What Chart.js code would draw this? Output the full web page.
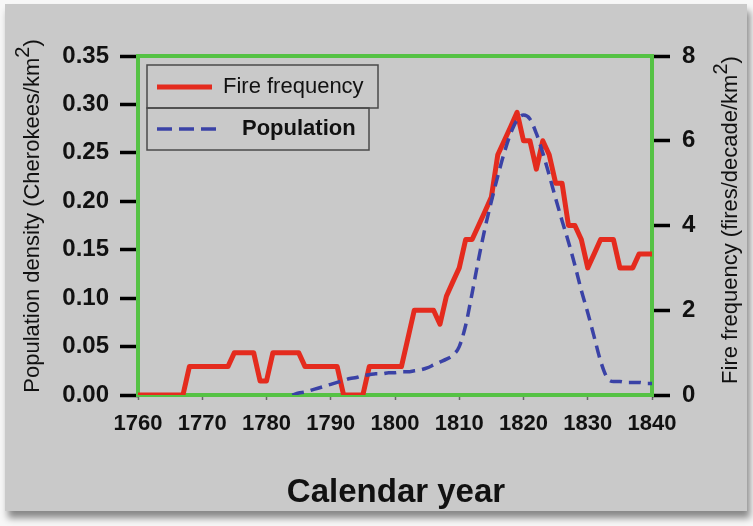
<!DOCTYPE html>
<html>
<head>
<meta charset="utf-8">
<title>Fire frequency and Cherokee population density, 1760–1840</title>
<script src="https://cdn.jsdelivr.net/npm/chart.js@4/dist/chart.umd.min.js"></script>
<style>
  html, body { margin: 0; padding: 0; background: #f7f7f7; }
  #panel {
    position: absolute; left: 5px; top: 4px; width: 742px; height: 507px;
    background: #c9c9c9;
    box-shadow: 3px 7px 7px rgba(0, 0, 0, 0.45);
  }
  #chart { position: absolute; left: 0; top: 0; }
</style>
</head>
<body>
<div id="panel"></div>
<canvas id="chart" width="753" height="526"></canvas>
<script>
// Calendar years (annual resolution)
const years = [
  1760, 1761, 1762, 1763, 1764, 1765, 1766, 1767, 1768, 1769,
  1770, 1771, 1772, 1773, 1774, 1775, 1776, 1777, 1778, 1779,
  1780, 1781, 1782, 1783, 1784, 1785, 1786, 1787, 1788, 1789,
  1790, 1791, 1792, 1793, 1794, 1795, 1796, 1797, 1798, 1799,
  1800, 1801, 1802, 1803, 1804, 1805, 1806, 1807, 1808, 1809,
  1810, 1811, 1812, 1813, 1814, 1815, 1816, 1817, 1818, 1819,
  1820, 1821, 1822, 1823, 1824, 1825, 1826, 1827, 1828, 1829,
  1830, 1831, 1832, 1833, 1834, 1835, 1836, 1837, 1838, 1839,
  1840
];

// Fire frequency (fires/decade/km²), right axis
const fireFrequency = [
  0, 0, 0, 0, 0, 0, 0, 0, 0.67, 0.67,
  0.67, 0.67, 0.67, 0.67, 0.67, 1.0, 1.0, 1.0, 1.0, 0.33,
  0.33, 1.0, 1.0, 1.0, 1.0, 1.0, 0.67, 0.67, 0.67, 0.67,
  0.67, 0.67, 0, 0, 0, 0, 0.67, 0.67, 0.67, 0.67,
  0.67, 0.67, 1.33, 2.0, 2.0, 2.0, 2.0, 1.67, 2.33, 2.67,
  3.0, 3.67, 3.67, 4.0, 4.33, 4.67, 5.67, 6.0, 6.33, 6.67,
  6.0, 6.0, 5.33, 6.0, 5.67, 5.0, 5.0, 4.0, 4.0, 3.67,
  3.0, 3.33, 3.67, 3.67, 3.67, 3.0, 3.0, 3.0, 3.33, 3.33,
  3.33
];

// Population density (Cherokees/km²), left axis; no estimate before 1784
const populationDensity = [
  null, null, null, null, null, null, null, null, null, null,
  null, null, null, null, null, null, null, null, null, null,
  null, null, null, null, 0.000, 0.002, 0.003, 0.005, 0.007, 0.009,
  0.011, 0.013, 0.015, 0.017, 0.018, 0.020, 0.021, 0.022, 0.022, 0.023,
  0.023, 0.024, 0.024, 0.025, 0.026, 0.028, 0.031, 0.034, 0.037, 0.041,
  0.050, 0.072, 0.105, 0.140, 0.172, 0.200, 0.226, 0.250, 0.270, 0.284,
  0.289, 0.285, 0.270, 0.250, 0.227, 0.203, 0.180, 0.158, 0.134, 0.108,
  0.085, 0.060, 0.035, 0.018, 0.014, 0.014, 0.013, 0.013, 0.013, 0.012,
  0.012
];

// Axis ranges and tick steps
const yearTicks = [1760, 1840, 10];
const densityTicks = [0, 0.35, 0.05];
const fireTicks = [0, 8, 2];

const FONT = '"Liberation Sans", Arial, Helvetica, sans-serif';
const RED = '#e42b1e';
const BLUE = '#3a42a6';
const GREEN = '#55c244';

function pairs(xs, ys) {
  return xs.map((x, i) => ({ x: x, y: ys[i] }));
}

// Draws rotated axis title with a raised "2" in km²
function drawRotatedTitle(ctx, cx, cy, mainText, supText, tailText, size) {
  ctx.save();
  ctx.translate(cx, cy);
  ctx.rotate(-Math.PI / 2);
  ctx.fillStyle = '#111';
  ctx.textBaseline = 'middle';
  ctx.textAlign = 'left';
  const mainFont = size + 'px ' + FONT;
  const supSize = Math.round(size * 0.9);
  const supFont = supSize + 'px ' + FONT;
  ctx.font = mainFont;
  const w1 = ctx.measureText(mainText).width;
  const w3 = ctx.measureText(tailText).width;
  ctx.font = supFont;
  const w2 = ctx.measureText(supText).width;
  let x = -(w1 + w2 + w3) / 2;
  ctx.font = mainFont;
  ctx.fillText(mainText, x, 0);
  x += w1;
  ctx.font = supFont;
  ctx.fillText(supText, x, -size * 0.45);
  x += w2;
  ctx.font = mainFont;
  ctx.fillText(tailText, x, 0);
  ctx.restore();
}

const framePlugin = {
  id: 'frame',
  beforeDatasetsDraw(chart) {
    const { ctx, chartArea: a } = chart;
    ctx.save();
    ctx.strokeStyle = GREEN;
    ctx.lineWidth = 4;
    ctx.strokeRect(a.left, a.top, a.right - a.left, a.bottom - a.top);
    ctx.restore();
  },
  afterDraw(chart) {
    const ctx = chart.ctx;
    const a = chart.chartArea;

    // Axis titles
    drawRotatedTitle(ctx, 33, 216, 'Population density (Cherokees/km', '2', ')', 22);
    drawRotatedTitle(ctx, 731, 220, 'Fire frequency (fires/decade/km', '2', ')', 22);
    ctx.save();
    ctx.fillStyle = '#111';
    ctx.font = 'bold 33px ' + FONT;
    ctx.textAlign = 'center';
    ctx.textBaseline = 'alphabetic';
    ctx.fillText('Calendar year', (a.left + a.right) / 2 + 1, 502);
    ctx.restore();

    // Legend: two stacked boxes
    const ds = chart.data.datasets;
    ctx.save();
    ctx.strokeStyle = '#4a4a4a';
    ctx.lineWidth = 1.5;
    ctx.strokeRect(147, 65, 231, 43);
    ctx.strokeRect(147, 108, 222, 42);

    ctx.lineCap = 'butt';
    ctx.strokeStyle = ds[0].borderColor;
    ctx.lineWidth = 5;
    ctx.beginPath();
    ctx.moveTo(157, 87);
    ctx.lineTo(212, 87);
    ctx.stroke();

    ctx.strokeStyle = ds[1].borderColor;
    ctx.lineWidth = 3.5;
    ctx.setLineDash([15, 7]);
    ctx.beginPath();
    ctx.moveTo(157, 129);
    ctx.lineTo(220, 129);
    ctx.stroke();
    ctx.setLineDash([]);

    ctx.fillStyle = '#111';
    ctx.textBaseline = 'middle';
    ctx.textAlign = 'left';
    ctx.font = '22px ' + FONT;
    ctx.fillText(ds[0].label, 223, 87);
    ctx.font = 'bold 22px ' + FONT;
    ctx.fillText(ds[1].label, 242, 129);
    ctx.restore();
  }
};

new Chart(document.getElementById('chart'), {
  type: 'line',
  data: {
    datasets: [
      {
        label: 'Fire frequency',
        data: pairs(years, fireFrequency),
        yAxisID: 'fire',
        borderColor: RED,
        backgroundColor: RED,
        borderWidth: 5,
        borderJoinStyle: 'round',
        borderCapStyle: 'round',
        pointRadius: 0,
        tension: 0,
        order: 2
      },
      {
        label: 'Population',
        data: pairs(years, populationDensity),
        yAxisID: 'density',
        borderColor: BLUE,
        backgroundColor: BLUE,
        borderWidth: 3.5,
        borderDash: [12, 7],
        pointRadius: 0,
        cubicInterpolationMode: 'monotone',
        spanGaps: false,
        order: 1
      }
    ]
  },
  options: {
    responsive: false,
    devicePixelRatio: 1,
    animation: false,
    layout: { padding: { top: 56, left: 0, right: 0, bottom: 0 } },
    plugins: {
      legend: { display: false },
      tooltip: { enabled: false }
    },
    scales: {
      x: {
        type: 'linear',
        min: yearTicks[0],
        max: yearTicks[1],
        afterFit(scale) { scale.height = 131; },
        border: { display: false },
        grid: {
          drawOnChartArea: false,
          drawTicks: true,
          tickLength: 5,
          tickWidth: 1.5,
          tickColor: '#666'
        },
        ticks: {
          stepSize: yearTicks[2],
          autoSkip: false,
          maxRotation: 0,
          padding: 11,
          color: '#111',
          font: { family: FONT, size: 22, weight: 'bold' },
          callback: (v) => String(v)
        }
      },
      density: {
        type: 'linear',
        position: 'left',
        min: densityTicks[0],
        max: densityTicks[1],
        afterFit(scale) { scale.width = 138; },
        border: { display: false },
        grid: {
          drawOnChartArea: false,
          drawTicks: true,
          tickLength: 18,
          tickWidth: 3.5,
          tickColor: '#000'
        },
        ticks: {
          stepSize: densityTicks[2],
          padding: 11,
          color: '#111',
          font: { family: FONT, size: 24, weight: 'bold' },
          callback: (v) => Number(v).toFixed(2)
        }
      },
      fire: {
        type: 'linear',
        position: 'right',
        min: fireTicks[0],
        max: fireTicks[1],
        afterFit(scale) { scale.width = 101; },
        border: { display: false },
        grid: {
          drawOnChartArea: false,
          drawTicks: true,
          tickLength: 18,
          tickWidth: 3.5,
          tickColor: '#000'
        },
        ticks: {
          stepSize: fireTicks[2],
          padding: 12,
          color: '#111',
          font: { family: FONT, size: 24, weight: 'bold' },
          callback: (v) => String(v)
        }
      }
    }
  },
  plugins: [framePlugin]
});
</script>
</body>
</html>
